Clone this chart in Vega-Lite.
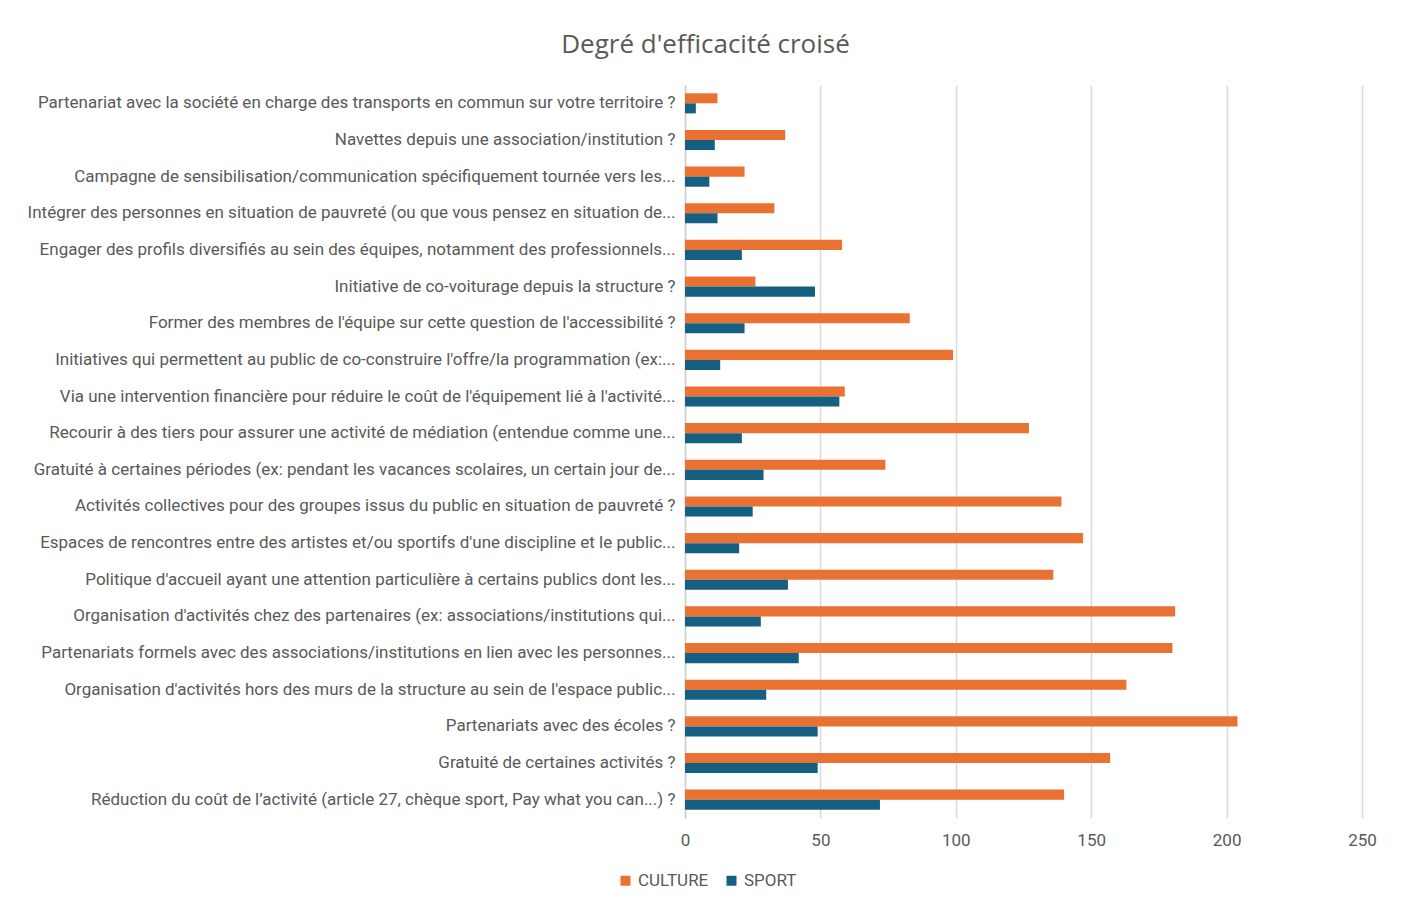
{
  "$schema": "https://vega.github.io/schema/vega-lite/v6.json",
  "width": 677,
  "height": 733,
  "autosize": {"type": "none"},
  "padding": {"left": 685, "top": 85, "right": 43, "bottom": 81},
  "background": "white",
  "title": {
    "text": "Degré d'efficacité croisé",
    "font": "Open Sans",
    "fontSize": 26,
    "fontWeight": "normal",
    "color": "#595959",
    "anchor": "middle",
    "dx": -318,
    "offset": 27
  },
  "data": {
    "values": [
      {"q": "Partenariat avec la société en charge des transports en commun sur votre territoire ?", "serie": "CULTURE", "v": 12},
      {"q": "Partenariat avec la société en charge des transports en commun sur votre territoire ?", "serie": "SPORT", "v": 4},
      {"q": "Navettes depuis une association/institution ?", "serie": "CULTURE", "v": 37},
      {"q": "Navettes depuis une association/institution ?", "serie": "SPORT", "v": 11},
      {"q": "Campagne de sensibilisation/communication spécifiquement tournée vers les...", "serie": "CULTURE", "v": 22},
      {"q": "Campagne de sensibilisation/communication spécifiquement tournée vers les...", "serie": "SPORT", "v": 9},
      {"q": "Intégrer des personnes en situation de pauvreté (ou que vous pensez en situation de...", "serie": "CULTURE", "v": 33},
      {"q": "Intégrer des personnes en situation de pauvreté (ou que vous pensez en situation de...", "serie": "SPORT", "v": 12},
      {"q": "Engager des profils diversifiés au sein des équipes, notamment des professionnels...", "serie": "CULTURE", "v": 58},
      {"q": "Engager des profils diversifiés au sein des équipes, notamment des professionnels...", "serie": "SPORT", "v": 21},
      {"q": "Initiative de co-voiturage depuis la structure ?", "serie": "CULTURE", "v": 26},
      {"q": "Initiative de co-voiturage depuis la structure ?", "serie": "SPORT", "v": 48},
      {"q": "Former des membres de l'équipe sur cette question de l'accessibilité ?", "serie": "CULTURE", "v": 83},
      {"q": "Former des membres de l'équipe sur cette question de l'accessibilité ?", "serie": "SPORT", "v": 22},
      {"q": "Initiatives qui permettent au public de co-construire l'offre/la programmation (ex:...", "serie": "CULTURE", "v": 99},
      {"q": "Initiatives qui permettent au public de co-construire l'offre/la programmation (ex:...", "serie": "SPORT", "v": 13},
      {"q": "Via une intervention financière pour réduire le coût de l'équipement lié à l'activité...", "serie": "CULTURE", "v": 59},
      {"q": "Via une intervention financière pour réduire le coût de l'équipement lié à l'activité...", "serie": "SPORT", "v": 57},
      {"q": "Recourir à des tiers pour assurer une activité de médiation (entendue comme une...", "serie": "CULTURE", "v": 127},
      {"q": "Recourir à des tiers pour assurer une activité de médiation (entendue comme une...", "serie": "SPORT", "v": 21},
      {"q": "Gratuité à certaines périodes (ex: pendant les vacances scolaires, un certain jour de...", "serie": "CULTURE", "v": 74},
      {"q": "Gratuité à certaines périodes (ex: pendant les vacances scolaires, un certain jour de...", "serie": "SPORT", "v": 29},
      {"q": "Activités collectives pour des groupes issus du public en situation de pauvreté ?", "serie": "CULTURE", "v": 139},
      {"q": "Activités collectives pour des groupes issus du public en situation de pauvreté ?", "serie": "SPORT", "v": 25},
      {"q": "Espaces de rencontres entre des artistes et/ou sportifs d'une discipline et le public...", "serie": "CULTURE", "v": 147},
      {"q": "Espaces de rencontres entre des artistes et/ou sportifs d'une discipline et le public...", "serie": "SPORT", "v": 20},
      {"q": "Politique d'accueil ayant une attention particulière à certains publics dont les...", "serie": "CULTURE", "v": 136},
      {"q": "Politique d'accueil ayant une attention particulière à certains publics dont les...", "serie": "SPORT", "v": 38},
      {"q": "Organisation d'activités chez des partenaires (ex: associations/institutions qui...", "serie": "CULTURE", "v": 181},
      {"q": "Organisation d'activités chez des partenaires (ex: associations/institutions qui...", "serie": "SPORT", "v": 28},
      {"q": "Partenariats formels avec des associations/institutions en lien avec les personnes...", "serie": "CULTURE", "v": 180},
      {"q": "Partenariats formels avec des associations/institutions en lien avec les personnes...", "serie": "SPORT", "v": 42},
      {"q": "Organisation d'activités hors des murs  de la structure au sein de l'espace public...", "serie": "CULTURE", "v": 163},
      {"q": "Organisation d'activités hors des murs  de la structure au sein de l'espace public...", "serie": "SPORT", "v": 30},
      {"q": "Partenariats avec des écoles ?", "serie": "CULTURE", "v": 204},
      {"q": "Partenariats avec des écoles ?", "serie": "SPORT", "v": 49},
      {"q": "Gratuité de certaines activités ?", "serie": "CULTURE", "v": 157},
      {"q": "Gratuité de certaines activités ?", "serie": "SPORT", "v": 49},
      {"q": "Réduction du coût de l’activité (article 27, chèque sport, Pay what you can...) ?", "serie": "CULTURE", "v": 140},
      {"q": "Réduction du coût de l’activité (article 27, chèque sport, Pay what you can...) ?", "serie": "SPORT", "v": 72}
    ]
  },
  "mark": {"type": "bar"},
  "encoding": {
    "y": {
      "field": "q",
      "type": "nominal",
      "sort": null,
      "scale": {"paddingInner": 0.45, "paddingOuter": 0.225},
      "axis": {
        "title": null,
        "domain": true,
        "domainColor": "#d0d0d0",
        "domainWidth": 1.5,
        "ticks": false,
        "grid": false,
        "labelFont": "Roboto",
        "labelFontSize": 17,
        "labelColor": "#595959",
        "labelPadding": 10,
        "labelLimit": 700
      }
    },
    "x": {
      "field": "v",
      "type": "quantitative",
      "scale": {"domain": [0, 250], "nice": false},
      "axis": {
        "title": null,
        "values": [0, 50, 100, 150, 200, 250],
        "grid": true,
        "gridColor": "#d9d9d9",
        "gridWidth": 1.5,
        "domain": false,
        "ticks": false,
        "labelFlush": false,
        "labelFont": "Roboto",
        "labelFontSize": 17,
        "labelColor": "#595959",
        "labelPadding": 14
      }
    },
    "yOffset": {"field": "serie", "sort": ["CULTURE", "SPORT"]},
    "color": {
      "field": "serie",
      "type": "nominal",
      "scale": {"domain": ["CULTURE", "SPORT"], "range": ["#E97132", "#156082"]},
      "legend": {
        "title": null,
        "orient": "none",
        "legendX": -68,
        "legendY": 787,
        "direction": "horizontal",
        "symbolType": "square",
        "symbolSize": 100,
        "symbolStrokeWidth": 0,
        "labelFont": "Roboto",
        "labelFontSize": 17,
        "labelColor": "#595959",
        "columnPadding": 14,
        "labelOffset": 4
      }
    }
  },
  "config": {"view": {"stroke": null}}
}
